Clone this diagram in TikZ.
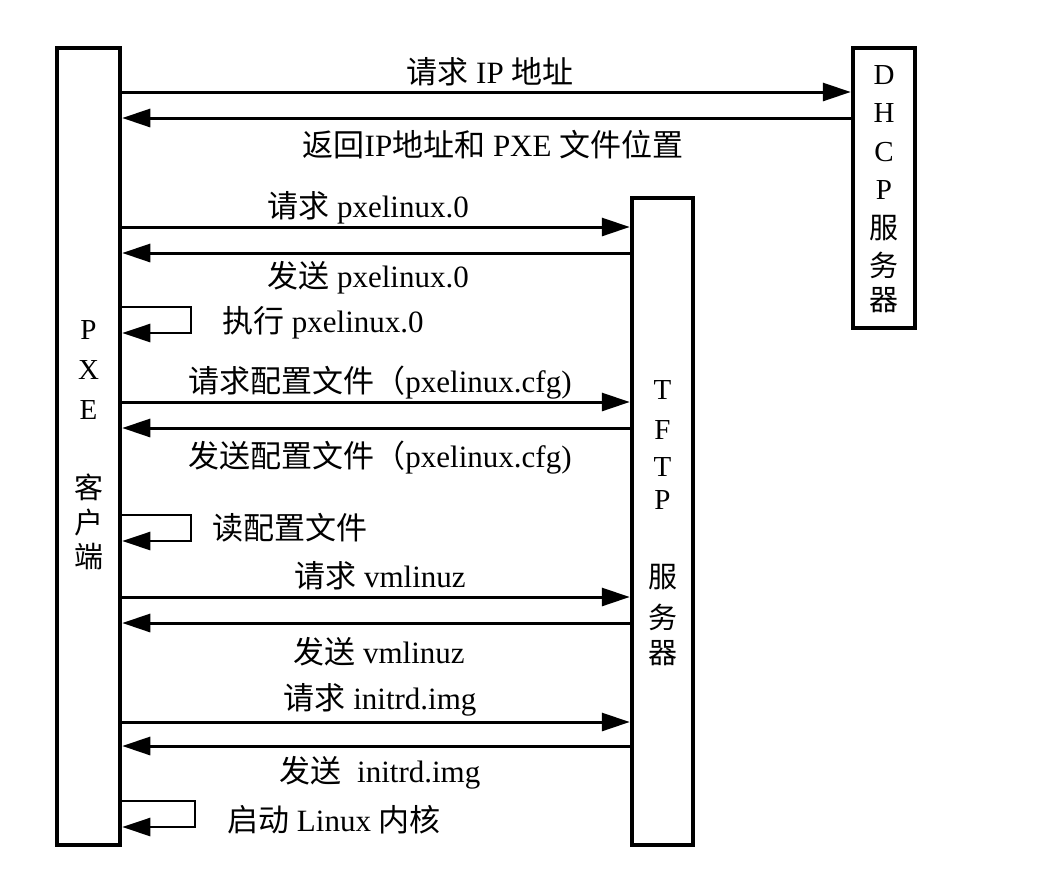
\documentclass[tikz,border=0pt]{standalone}
\usepackage{fontspec}
\setmainfont{Liberation Serif}
\newfontfamily\cjkfont{Noto Sans CJK SC}
\newcommand\zhs[1]{{\cjkfont #1}}
\usetikzlibrary{arrows.meta}
\begin{document}
\begin{tikzpicture}[x=1pt,y=-1pt,
  box/.style={draw,line width=4.5pt,minimum width=#1,inner sep=0pt},
  msg/.style={line width=3pt,-{Triangle[length=28pt,width=18pt]}},
  ret/.style={line width=3pt,{Triangle[length=28pt,width=18pt]}-},
  selfloop/.style={line width=2.5pt,-{Triangle[length=28pt,width=18pt]}},
  lbl/.style={font=\fontsize{31}{36}\selectfont,inner sep=0pt},
  vt/.style={font=\fontsize{29}{34}\selectfont,inner sep=0pt}]
\fill[white] (0,0) rectangle (1053,879);
\useasboundingbox (0,0) rectangle (1053,879);

% boxes
\node[box=63pt,minimum height=797pt] (pxe) at (88.5,446.5) {};
\node[box=62pt,minimum height=280pt] (dhcp) at (884,188) {};
\node[box=61pt,minimum height=647pt] (tftp) at (662.5,521.5) {};

% box texts
\foreach \t/\y in {P/330,X/370,E/410,\zhs{客}/487,\zhs{户}/522,\zhs{端}/557}
  \node[vt] at (pxe.center |- 0,\y) {\t};
\foreach \t/\y in {D/75,H/113,C/152,P/190,\zhs{服}/228,\zhs{务}/265,\zhs{器}/300}
  \node[vt] at (dhcp.center |- 0,\y) {\t};
\foreach \t/\y in {T/390,F/430,T/467,P/500,\zhs{服}/577,\zhs{务}/617,\zhs{器}/653}
  \node[vt] at (tftp.center |- 0,\y) {\t};

% message rows
\coordinate (m1) at (0,92);
\coordinate (m2) at (0,118);
\coordinate (m3) at (0,227);
\coordinate (m4) at (0,253);
\coordinate (m5) at (0,402);
\coordinate (m6) at (0,428);
\coordinate (m7) at (0,597);
\coordinate (m8) at (0,623);
\coordinate (m9) at (0,722);
\coordinate (m10) at (0,746);

\draw[msg] (pxe.east |- m1) -- (dhcp.west |- m1);
\draw[ret] (pxe.east |- m2) -- (dhcp.west |- m2);
\draw[msg] (pxe.east |- m3) -- (tftp.west |- m3);
\draw[ret] (pxe.east |- m4) -- (tftp.west |- m4);
\draw[msg] (pxe.east |- m5) -- (tftp.west |- m5);
\draw[ret] (pxe.east |- m6) -- (tftp.west |- m6);
\draw[msg] (pxe.east |- m7) -- (tftp.west |- m7);
\draw[ret] (pxe.east |- m8) -- (tftp.west |- m8);
\draw[msg] (pxe.east |- m9) -- (tftp.west |- m9);
\draw[ret] (pxe.east |- m10) -- (tftp.west |- m10);

% self loops
\coordinate (s1t) at (191,307); \coordinate (s1b) at (191,333);
\coordinate (s2t) at (191,515); \coordinate (s2b) at (191,541);
\coordinate (s3t) at (195,801); \coordinate (s3b) at (195,827);
\draw[selfloop] (pxe.east |- s1t) -- (s1t) -- (s1b) -- (pxe.east |- s1b);
\draw[selfloop] (pxe.east |- s2t) -- (s2t) -- (s2b) -- (pxe.east |- s2b);
\draw[selfloop] (pxe.east |- s3t) -- (s3t) -- (s3b) -- (pxe.east |- s3b);

% labels
\node[lbl] (l1) at (490,72) {\zhs{请求} IP \zhs{地址}};
\node[lbl] (l2) at (493,145) {\zhs{返回}IP\zhs{地址和} PXE \zhs{文件位置}};
\node[lbl] (l3) at (368,208) {\zhs{请求} pxelinux.0};
\node[lbl] (l4) at (368,278) {\zhs{发送} pxelinux.0};
\node[lbl,anchor=west] (l5) at (222,323) {\zhs{执行} pxelinux.0};
\node[lbl] (l6) at (380,383) {\zhs{请求配置文件（}pxelinux.cfg)};
\node[lbl] (l7) at (380,458) {\zhs{发送配置文件（}pxelinux.cfg)};
\node[lbl,anchor=west] (l8) at (212,528) {\zhs{读配置文件}};
\node[lbl] (l9) at (380,576) {\zhs{请求} vmlinuz};
\node[lbl] (l10) at (379,652) {\zhs{发送} vmlinuz};
\node[lbl] (l11) at (380,700) {\zhs{请求} initrd.img};
\node[lbl] (l12) at (380,773) {\zhs{发送}\ \ initrd.img};
\node[lbl,anchor=west] (l13) at (227,820) {\zhs{启动} Linux \zhs{内核}};
\end{tikzpicture}
\end{document}
